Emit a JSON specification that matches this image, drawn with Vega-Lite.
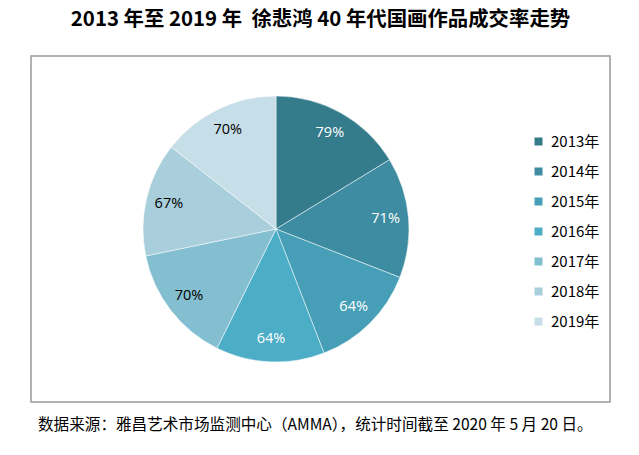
{
  "$schema": "https://vega.github.io/schema/vega-lite/v6.json",
  "padding": {"left": 30, "top": 9, "right": 0, "bottom": 0},
  "title": {
    "text": "2013 年至 2019 年 \u00a0徐悲鸿 40 年代国画作品成交率走势",
    "font": "Noto Sans CJK SC",
    "fontSize": 20.4,
    "fontWeight": "bold",
    "color": "#000000",
    "anchor": "middle",
    "offset": 25
  },
  "data": {
    "values": [
      {"year": "2013年", "rate": 0.79},
      {"year": "2014年", "rate": 0.71},
      {"year": "2015年", "rate": 0.64},
      {"year": "2016年", "rate": 0.64},
      {"year": "2017年", "rate": 0.70},
      {"year": "2018年", "rate": 0.67},
      {"year": "2019年", "rate": 0.70}
    ]
  },
  "vconcat": [
    {
      "width": 579,
      "height": 346,
      "view": {"stroke": "#999999", "strokeWidth": 1.5, "fill": "#ffffff"},
      "title": {
        "text": "数据来源：雅昌艺术市场监测中心（AMMA），统计时间截至 2020 年 5 月 20 日。",
        "orient": "bottom",
        "anchor": "start",
        "font": "Noto Sans CJK SC",
        "fontSize": 15.6,
        "fontWeight": "normal",
        "color": "#000000",
        "dx": 7,
        "offset": 16
      },
      "encoding": {
        "theta": {"field": "rate", "type": "quantitative", "stack": true},
        "order": {"field": "year", "type": "ordinal", "sort": "ascending"}
      },
      "layer": [
        {
          "mark": {"type": "arc", "outerRadius": 133, "x": {"expr": "width/2 - 44.5"}, "stroke": "#ffffff", "strokeWidth": 0.5},
          "encoding": {
            "color": {
              "field": "year",
              "type": "nominal",
              "scale": {
                "domain": ["2013年", "2014年", "2015年", "2016年", "2017年", "2018年", "2019年"],
                "range": ["#347B8C", "#3E8CA1", "#469FB6", "#4CADC7", "#84BFD1", "#A9CEDC", "#C6DEE8"]
              },
              "legend": {
                "orient": "none",
                "legendX": 500,
                "legendY": 78,
                "title": null,
                "symbolType": "square",
                "symbolSize": 64,
                "symbolStrokeWidth": 0,
                "labelFont": "Noto Sans CJK SC",
                "labelFontSize": 15,
                "labelColor": "#000000",
                "labelOffset": 5,
                "rowPadding": 14
              }
            }
          }
        },
        {
          "mark": {"type": "text", "radius": 110, "x": {"expr": "width/2 - 44.5"}, "font": "Open Sans", "fontSize": 14.5, "align": "center", "baseline": "middle"},
          "encoding": {
            "text": {"field": "rate", "type": "quantitative", "format": ".0%"},
            "color": {
              "condition": {"test": "indexof(['2013年','2014年','2015年','2016年'], datum.year) >= 0", "value": "#ffffff"},
              "value": "#000000"
            }
          }
        }
      ]
    }
  ],
  "config": {
    "concat": {"spacing": 0},
    "background": "#ffffff"
  }
}
